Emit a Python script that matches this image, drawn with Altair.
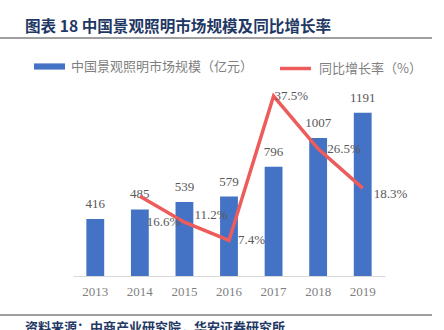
import altair as alt
import pandas as pd

years = ["2013", "2014", "2015", "2016", "2017", "2018", "2019"]
market = [416, 485, 539, 579, 796, 1007, 1191]
growth = [None, 16.6, 11.2, 7.4, 37.5, 26.5, 18.3]

bar_name = "中国景观照明市场规模（亿元）"
line_name = "同比增长率（%）"
title_text = "图表 18 中国景观照明市场规模及同比增长率"
source_text = "资料来源：中商产业研究院，华安证券研究所"

BLUE = "#4472C4"
RED = "#EE5B5B"
GRAY = "#595959"
NAVY = "#1F3864"
SERIF = "Liberation Serif"
CJK = "Noto Sans CJK SC"

# label offsets (dx, dy) for the growth-rate labels, by year
label_offsets = {
    "2014": (7, 26),
    "2015": (10, -7),
    "2016": (9, 0),
    "2017": (1, 0),
    "2018": (9, 0),
    "2019": (11, 6),
}

df = pd.DataFrame({"year": years, "market": market, "growth": growth})
df["series_bar"] = bar_name
df["series_line"] = line_name

x_enc = alt.X(
    "year:N",
    sort=years,
    scale=alt.Scale(paddingInner=0.6, paddingOuter=0.3),
    axis=alt.Axis(
        title=None, labelAngle=0, ticks=False, grid=False,
        domainColor="#D9D9D9", domainWidth=1,
        labelColor="#7F7F7F", labelFont=SERIF, labelFontSize=13, labelPadding=9,
    ),
)

base = alt.Chart(df).encode(x=x_enc)

y_bar = alt.Y("market:Q", scale=alt.Scale(domain=[0, 1400]), axis=None)
y_line = alt.Y("growth:Q", scale=alt.Scale(domain=[0, 40]), axis=None)

bars = base.mark_bar(color=BLUE).encode(
    y=y_bar,
    color=alt.Color(
        "series_bar:N",
        scale=alt.Scale(range=[BLUE]),
        legend=alt.Legend(
            title=None, orient="none", legendX=-39, legendY=-33,
            symbolType="M-1,-0.2H1V0.2H-1Z", symbolSize=961, symbolStrokeWidth=0,
            labelFont=CJK, labelFontSize=13, labelColor="#7F7F7F", labelOffset=6,
            labelLimit=0,
        ),
    ),
)

bar_text = base.mark_text(
    baseline="bottom", dy=-8, font=SERIF, fontSize=13, color=GRAY
).encode(y=y_bar, text=alt.Text("market:Q"))

line_base = base.transform_filter("isValid(datum.growth)")

line = line_base.mark_line(color=RED, strokeWidth=3.5).encode(
    y=y_line,
    color=alt.Color(
        "series_line:N",
        scale=alt.Scale(range=[RED]),
        legend=alt.Legend(
            title=None, orient="none", legendX=205, legendY=-33,
            symbolType="stroke", symbolSize=961, symbolStrokeWidth=3.5,
            labelFont=CJK, labelFontSize=13, labelColor="#7F7F7F", labelOffset=6,
            labelLimit=0,
        ),
    ),
)

line_texts = []
for yr, (ddx, ddy) in label_offsets.items():
    line_texts.append(
        line_base.transform_filter(alt.datum.year == yr)
        .transform_calculate(lbl="format(datum.growth, '.1f') + '%'")
        .mark_text(align="left", baseline="middle", dx=ddx, dy=ddy,
                   font=SERIF, fontSize=13, color=GRAY)
        .encode(y=y_line, text="lbl:N")
    )

deco = alt.Chart(pd.DataFrame({"k": [0]}))
top_rule = deco.mark_rule(color="#404040", strokeWidth=1).encode(
    x=alt.value(-73), x2=alt.value(359), y=alt.value(-46)
)
bottom_rule = deco.mark_rule(color="#7F7F7F", strokeWidth=1.5).encode(
    x=alt.value(-73), x2=alt.value(359), y=alt.value(231)
)
source = deco.mark_text(
    align="left", baseline="top", font=CJK, fontSize=13, fontWeight="bold", color=NAVY
).encode(x=alt.value(-48), y=alt.value(238), text=alt.value(source_text))

chart = (
    alt.layer(bars, bar_text, line, *line_texts, top_rule, bottom_rule, source)
    .resolve_scale(y="independent", color="independent")
    .properties(
        width=312, height=192,
        padding={"left": 73, "top": 84, "right": 59, "bottom": 54},
        autosize="none",
        background="white",
        title=alt.TitleParams(
            text=title_text, anchor="start", frame="group", dx=-48, offset=2,
            font=CJK, fontSize=15.6, fontWeight="bold", color=NAVY,
        ),
    )
    .configure_view(stroke=None)
)

chart.save("out.html", embed_options={"renderer": "svg", "actions": False})
